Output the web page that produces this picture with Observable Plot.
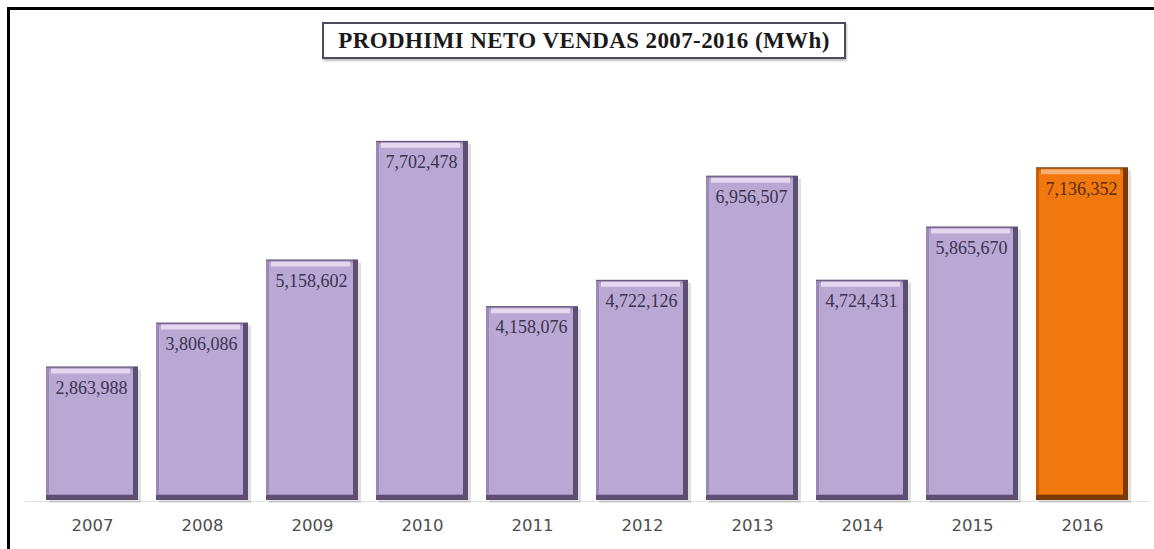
<!DOCTYPE html>
<html>
<head>
<meta charset="utf-8">
<script src="https://cdn.jsdelivr.net/npm/d3@7"></script>
<script src="https://cdn.jsdelivr.net/npm/@observablehq/plot@0.6"></script>
<style>
  html, body { margin: 0; padding: 0; background: #fff; }
  #wrap { position: relative; width: 1154px; height: 549px; overflow: hidden; background: #fff; }
  #frame { position: absolute; left: 7px; top: 7px; width: 1200px; height: 600px;
           border-top: 3px solid #000; border-left: 3px solid #000; pointer-events: none; }
  #title { position: absolute; left: 322px; top: 22px; width: 520px; height: 33px;
           border: 2px solid #4b4b5e; box-shadow: 1px 2px 2px rgba(0,0,0,0.25);
           font-family: "Liberation Serif", "DejaVu Serif", serif; font-weight: bold;
           font-size: 23px; letter-spacing: 0.4px; line-height: 33px; text-align: center; color: #1a1a1a; background: #fff; }
  #chart { position: absolute; left: 0; top: 0; }
</style>
</head>
<body>
<div id="wrap">
  <div id="chart"></div>
  <div id="frame"></div>
  <div id="title">PRODHIMI NETO VENDAS 2007-2016 (MWh)</div>
</div>
<script>
const years = ["2007","2008","2009","2010","2011","2012","2013","2014","2015","2016"];
const values = [2863988, 3806086, 5158602, 7702478, 4158076, 4722126, 6956507, 4724431, 5865670, 7136352];
const labels = ["2,863,988","3,806,086","5,158,602","7,702,478","4,158,076","4,722,126","6,956,507","4,724,431","5,865,670","7,136,352"];
const highlight = "2016";

const data = years.map((y, i) => ({year: y, value: values[i], label: labels[i], hi: y === highlight}));

const mainFill = d => d.hi ? "#f0780f" : "#b9a7d4";
const edgeFill = d => d.hi ? "#7a3a05" : "#5d4f73";
const lightFill = d => d.hi ? "#f9b070" : "#e3d8f0";
const leftFill = d => d.hi ? "#c86008" : "#9b88b6";

const chart = Plot.plot({
  width: 1154,
  height: 549,
  marginTop: 127,
  marginBottom: 49,
  marginLeft: 24.35,
  marginRight: 4.35,
  x: {domain: years, paddingInner: 0.162, paddingOuter: 0.15, label: null, tickSize: 0, tickPadding: 19},
  y: {domain: [0, 8000000], axis: null},
  style: {fontFamily: "DejaVu Sans, Verdana, sans-serif", fontSize: "16.5px", color: "#4d4d4d"},
  marks: [
    Plot.ruleY([0], {stroke: "#e2e2e2", strokeWidth: 1, dy: 1}),
    // drop shadow
    Plot.barY(data, {x: "year", y: "value", fill: "#000", fillOpacity: 0.12, dx: 3, dy: 3}),
    // dark edge
    Plot.barY(data, {x: "year", y: "value", fill: edgeFill}),
    // left bevel
    Plot.barY(data, {x: "year", y: "value", fill: leftFill, insetRight: 5, insetBottom: 5, insetTop: 1}),
    // main face
    Plot.barY(data, {x: "year", y: "value", fill: mainFill, insetLeft: 3, insetRight: 5, insetBottom: 6, insetTop: 3}),
    // top highlight
    Plot.tickY(data, {x: "year", y: "value", stroke: lightFill, strokeWidth: 5, dy: 4, insetLeft: 5, insetRight: 8}),
    Plot.text(data, {x: "year", y: "value", text: "label", dy: 21, dx: -1,
      fontFamily: "Liberation Serif, DejaVu Serif, serif", fontSize: 18, letterSpacing: 0.4,
      fill: d => d.hi ? "#5a2a05" : "#3b3450"})
  ]
});
document.getElementById("chart").appendChild(chart);
</script>
</body>
</html>
